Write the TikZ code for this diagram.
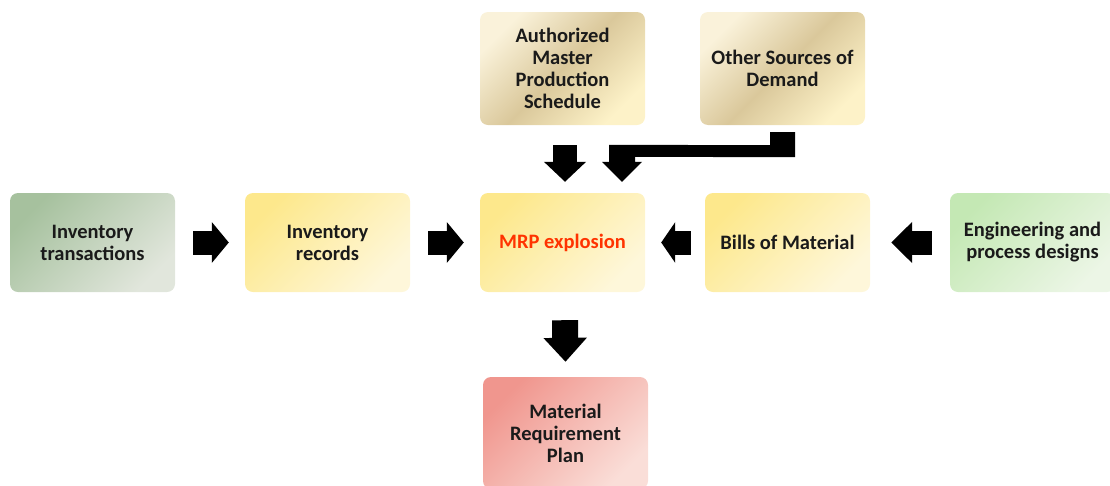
\documentclass[tikz,border=0pt]{standalone}
\usepackage{fontspec}
\setmainfont{Carlito}
\usetikzlibrary{arrows.meta,calc}
\definecolor{txt}{RGB}{26,26,26}
\definecolor{mrpred}{RGB}{255,51,0}
\definecolor{tanA}{RGB}{250,242,218}
\definecolor{tanB}{RGB}{218,200,155}
\definecolor{tanC}{RGB}{253,242,200}
\definecolor{yelA}{RGB}{253,232,140}
\definecolor{yelB}{RGB}{254,247,218}
\definecolor{grnA}{RGB}{166,193,158}
\definecolor{grnB}{RGB}{225,230,220}
\definecolor{lgrA}{RGB}{196,232,180}
\definecolor{lgrB}{RGB}{236,246,230}
\definecolor{redA}{RGB}{240,150,142}
\definecolor{redB}{RGB}{250,222,216}
\tikzset{
  box/.style={rounded corners=8pt, minimum width=165pt, inner sep=0pt, align=center,
    font=\fontsize{20.5}{22}\selectfont\bfseries, text=txt},
  tanbox/.style={box, top color=tanA, bottom color=tanC, middle color=tanB, shading angle=45},
  yelbox/.style={box, top color=yelA, bottom color=yelB, shading angle=45},
  grnbox/.style={box, top color=grnA, bottom color=grnB, shading angle=45},
  lgrbox/.style={box, top color=lgrA, bottom color=lgrB, shading angle=45},
  redbox/.style={box, top color=redA, bottom color=redB, shading angle=45},
  blk/.style={draw=black, line width=24pt, -{Triangle[length=17pt,width=40pt]}},
}
\begin{document}
\begin{tikzpicture}[x=1pt,y=-1pt]
\useasboundingbox (0,0) rectangle (1110,485);
\node[tanbox, minimum height=113pt] (mps) at (562.5,68.5) {Authorized\\Master\\Production\\Schedule};
\node[tanbox, minimum height=113pt] (oth) at (782.5,68.5) {Other Sources of\\Demand};
\node[grnbox, minimum height=99pt] (invt) at (92.5,242.5) {Inventory\\transactions};
\node[yelbox, minimum height=99pt, text=txt] (invr) at (327.5,242.5) {Inventory\\records};
\node[yelbox, minimum height=99pt, text=mrpred] (mrp) at (562.5,242.5) {MRP explosion};
\node[yelbox, minimum height=99pt] (bom) at (787.5,242.5) {Bills of Material};
\node[lgrbox, minimum height=99pt] (eng) at (1032.5,242.5) {Engineering and\\process designs};
\node[redbox, minimum height=112pt] (plan) at (565.5,433) {Material\\Requirement\\Plan};
% horizontal block arrows
\draw[blk] ([xshift=18pt]invt.east) -- ([xshift=-16pt]invr.west);
\draw[blk] ([xshift=18pt]invr.east) -- ([xshift=-16pt]mrp.west);
\draw[blk, -{Triangle[length=14pt,width=40pt]}] ([xshift=-14pt]bom.west) -- ([xshift=16pt]mrp.east);
\draw[blk, -{Triangle[length=21pt,width=40pt]}] ([xshift=-18pt]eng.west) -- ([xshift=21pt]bom.east);
% vertical block arrows
\draw[blk, -{Triangle[length=20pt,width=41pt]}] ([xshift=2.5pt,yshift=-20pt]mps.south) -- ([xshift=2.5pt,yshift=11pt]mrp.north);
\draw[blk, line width=26pt, -{Triangle[length=24pt,width=42pt]}] ([xshift=2.5pt,yshift=-28pt]mrp.south) -- ([yshift=15pt]plan.north);
% bent arrow from other sources
\fill[black] ($(oth.south)+(12.5,7)$) -- ($(oth.south)+(12.5,32)$)
  -- ($(mrp.north)+(72.5,-36)$) -- ($(mrp.north)+(72.5,-31)$)
  -- ($(mrp.north)+(79.5,-31)$) -- ($(mrp.north)+(59.5,-11)$)
  -- ($(mrp.north)+(39.5,-31)$) -- ($(mrp.north)+(46.5,-31)$)
  -- ($(mrp.north)+(46.5,-48)$) -- ($(oth.south)+(-12.5,20)$)
  -- ($(oth.south)+(-12.5,7)$) -- cycle;
\end{tikzpicture}
\end{document}
